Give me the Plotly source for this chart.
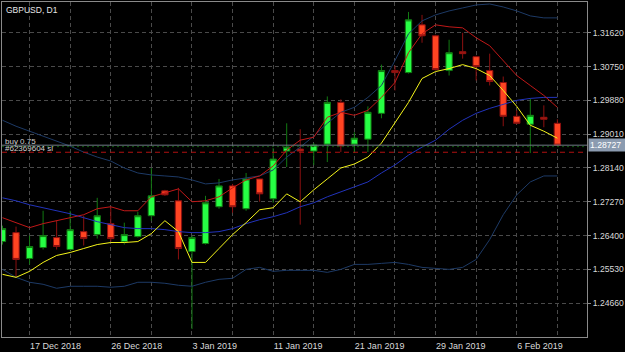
import plotly.graph_objects as go

# ---------------- data ----------------
dates = ["13 Dec 2018", "14 Dec 2018", "17 Dec 2018", "18 Dec 2018", "19 Dec 2018",
         "20 Dec 2018", "21 Dec 2018", "24 Dec 2018", "26 Dec 2018", "27 Dec 2018",
         "28 Dec 2018", "31 Dec 2018", "1 Jan 2019", "2 Jan 2019", "3 Jan 2019",
         "4 Jan 2019", "7 Jan 2019", "8 Jan 2019", "9 Jan 2019", "10 Jan 2019",
         "11 Jan 2019", "14 Jan 2019", "15 Jan 2019", "16 Jan 2019", "17 Jan 2019",
         "18 Jan 2019", "21 Jan 2019", "22 Jan 2019", "23 Jan 2019", "24 Jan 2019",
         "25 Jan 2019", "28 Jan 2019", "29 Jan 2019", "30 Jan 2019", "31 Jan 2019",
         "1 Feb 2019", "4 Feb 2019", "5 Feb 2019", "6 Feb 2019", "7 Feb 2019",
         "8 Feb 2019", "11 Feb 2019"]

open_ = [1.26246, 1.26476, 1.25811, 1.26093, 1.26349, 1.26042, 1.26502, 1.26425, 1.26707, 1.26246,
         1.26374, 1.26911, 1.27551, 1.27295, 1.25990, 1.26195, 1.27142, 1.27679, 1.27091, 1.27858,
         1.27347, 1.28575, 1.28626, 1.28575, 1.28754, 1.29829, 1.28754, 1.28882, 1.29547, 1.30648,
         1.30596, 1.31825, 1.31543, 1.30648, 1.31134, 1.31006, 1.30648, 1.30341, 1.29470, 1.29266,
         1.29445, 1.29291]
high = [1.26656, 1.26630, 1.26400, 1.27039, 1.26783, 1.27039, 1.26911, 1.27372, 1.27142, 1.26732,
        1.27014, 1.28140, 1.27577, 1.27628, 1.26400, 1.27423, 1.27858, 1.27730, 1.28012, 1.27858,
        1.28652, 1.29291, 1.29138, 1.28780, 1.29982, 1.29906, 1.29061, 1.29726, 1.30801, 1.30776,
        1.32157, 1.32081, 1.31570, 1.31441, 1.31620, 1.31031, 1.31083, 1.30494, 1.29624, 1.29931,
        1.29752, 1.29394]
low = [1.26169, 1.25325, 1.25658, 1.26042, 1.26042, 1.26016, 1.26144, 1.26323, 1.26246, 1.26169,
       1.26349, 1.26783, 1.27423, 1.25786, 1.23994, 1.26169, 1.27091, 1.26988, 1.27039, 1.27270,
       1.27244, 1.28165, 1.26681, 1.28217, 1.28293, 1.28549, 1.28524, 1.28549, 1.29419, 1.30136,
       1.30571, 1.31364, 1.30648, 1.30520, 1.30955, 1.30392, 1.30264, 1.29215, 1.29266, 1.28524,
       1.29189, 1.28727]
close = [1.26579, 1.25786, 1.26118, 1.26400, 1.26118, 1.26553, 1.26323, 1.26911, 1.26323, 1.26425,
         1.26911, 1.27423, 1.27449, 1.26067, 1.26349, 1.27244, 1.27679, 1.27142, 1.27858, 1.27474,
         1.28370, 1.28677, 1.28575, 1.28728, 1.29829, 1.28703, 1.28907, 1.29573, 1.30648, 1.30596,
         1.31953, 1.31543, 1.30673, 1.31108, 1.31083, 1.30750, 1.30366, 1.29470, 1.29291, 1.29496,
         1.29394, 1.28727]

ma_fast = [1.25402, 1.25325, 1.25479, 1.25709, 1.25888, 1.25965, 1.26067, 1.26169, 1.26221, 1.26221,
           1.26246, 1.26451, 1.26783, 1.26502, 1.25709, 1.25709, 1.26067, 1.26425, 1.26732, 1.27065,
           1.27116, 1.27474, 1.27270, 1.27577, 1.27858, 1.28140, 1.28242, 1.28421, 1.28780, 1.29317,
           1.29829, 1.30443, 1.30622, 1.30699, 1.30801, 1.30699, 1.30520, 1.30136, 1.29726, 1.29240,
           1.29087, 1.28907]
ma_high = [1.26860, 1.26732, 1.26604, 1.26707, 1.26783, 1.26860, 1.26937, 1.27091, 1.27142, 1.27039,
           1.27039, 1.27398, 1.27500, 1.27602, 1.27270, 1.27295, 1.27398, 1.27628, 1.27833, 1.27935,
           1.28191, 1.28600, 1.28856, 1.28933, 1.29445, 1.29573, 1.29496, 1.29624, 1.29957, 1.30341,
           1.31108, 1.31594, 1.31825, 1.31774, 1.31748, 1.31492, 1.31287, 1.30904, 1.30520, 1.30264,
           1.30008, 1.29701]
bb_mid = [1.27372, 1.27295, 1.27193, 1.27116, 1.27039, 1.26962, 1.26860, 1.26758, 1.26681, 1.26604,
          1.26579, 1.26579, 1.26553, 1.26502, 1.26476, 1.26476, 1.26502, 1.26579, 1.26707, 1.26809,
          1.26886, 1.26988, 1.27142, 1.27244, 1.27398, 1.27525, 1.27653, 1.27781, 1.28012, 1.28217,
          1.28472, 1.28677, 1.28856, 1.29138, 1.29368, 1.29547, 1.29675, 1.29778, 1.29880, 1.29931,
          1.29957, 1.29957]
bb_up = [1.29368, 1.29215, 1.29087, 1.28959, 1.28831, 1.28703, 1.28549, 1.28421, 1.28319, 1.28140,
         1.28012, 1.27961, 1.27935, 1.27909, 1.27833, 1.27730, 1.27756, 1.27833, 1.27884, 1.27935,
         1.28089, 1.28421, 1.28677, 1.28959, 1.29291, 1.29573, 1.29701, 1.29957, 1.30264, 1.30904,
         1.31594, 1.31927, 1.32081, 1.32183, 1.32260, 1.32337, 1.32362, 1.32285, 1.32183, 1.32055,
         1.32004, 1.32004]
bb_low = [1.25530, 1.25325, 1.25198, 1.25146, 1.25044, 1.25095, 1.25095, 1.25095, 1.25070, 1.25095,
          1.25198, 1.25198, 1.25172, 1.25121, 1.25095, 1.25198, 1.25274, 1.25300, 1.25530, 1.25581,
          1.25479, 1.25505, 1.25505, 1.25505, 1.25453, 1.25530, 1.25658, 1.25658, 1.25684, 1.25709,
          1.25658, 1.25581, 1.25556, 1.25530, 1.25581, 1.25786, 1.26297, 1.26937, 1.27449, 1.27781,
          1.27935, 1.27935]

grid_dates = ["17 Dec 2018", "20 Dec 2018", "26 Dec 2018", "31 Dec 2018", "3 Jan 2019",
              "8 Jan 2019", "11 Jan 2019", "16 Jan 2019", "21 Jan 2019", "24 Jan 2019",
              "29 Jan 2019", "1 Feb 2019", "6 Feb 2019", "11 Feb 2019"]
label_dates = ["17 Dec 2018", "26 Dec 2018", "3 Jan 2019", "11 Jan 2019",
               "21 Jan 2019", "29 Jan 2019", "6 Feb 2019"]
price_ticks = [1.24660, 1.25530, 1.26400, 1.27270, 1.28140, 1.29010, 1.29880, 1.30750, 1.31620]

symbol_title = "GBPUSD, D1"
bid_price = 1.28727
buy_price = 1.28690
sl_price = 1.28545
buy_label = "buy 0.75"
sl_label = "#62369604 sl"

# ---------------- figure ----------------
FONT = "Liberation Sans, Arial, sans-serif"
TXT = "#d9d9d9"
GRID = "#4a4a4a"
FRAME = "#8a8a8a"

fig = go.Figure()

fig.add_trace(go.Candlestick(
    x=dates, open=open_, high=high, low=low, close=close,
    increasing=dict(line=dict(color="#127a12", width=1), fillcolor="#26ff44"),
    decreasing=dict(line=dict(color="#8c1010", width=1), fillcolor="#ff4422"),
    whiskerwidth=0, hoverinfo="skip", showlegend=False,
))

for vals, col in [(bb_up, "#1d3a66"), (bb_low, "#1d3a66"), (bb_mid, "#2233bb"),
                  (ma_high, "#c01818"), (ma_fast, "#f5f51a")]:
    fig.add_trace(go.Scatter(x=dates, y=vals, mode="lines",
                             line=dict(color=col, width=1),
                             hoverinfo="skip", showlegend=False))

# order / price lines
fig.add_shape(type="line", xref="paper", x0=0, x1=1, yref="y", y0=bid_price, y1=bid_price,
              line=dict(color="#6f7a86", width=1))
fig.add_shape(type="line", xref="paper", x0=0, x1=1, yref="y", y0=buy_price, y1=buy_price,
              line=dict(color="#0d5a0d", width=1, dash="2px,3px"))
fig.add_shape(type="line", xref="paper", x0=0, x1=1, yref="y", y0=sl_price, y1=sl_price,
              line=dict(color="#b01010", width=1, dash="5px,4px"))

fig.add_annotation(text=symbol_title, xref="paper", yref="paper", x=0, y=1,
                   xanchor="left", yanchor="top", xshift=2, yshift=-1, showarrow=False,
                   font=dict(family=FONT, size=8.5, color="#e6e6e6"))
fig.add_annotation(text=buy_label, xref="paper", yref="y", x=0, y=buy_price,
                   xanchor="left", yanchor="bottom", xshift=2, yshift=0, showarrow=False,
                   borderpad=0, font=dict(family=FONT, size=8, color="#d0d0d0"))
fig.add_annotation(text=sl_label, xref="paper", yref="y", x=0, y=sl_price,
                   xanchor="left", yanchor="bottom", xshift=2, yshift=-2, showarrow=False,
                   borderpad=0, font=dict(family=FONT, size=8, color="#d0d0d0"))
fig.add_annotation(text=f"{bid_price:.5f}", xref="paper", yref="y", x=1, y=bid_price,
                   xanchor="left", yanchor="middle", xshift=1, showarrow=False,
                   bgcolor="#8b9bb0", width=34, align="left", borderpad=1,
                   font=dict(family=FONT, size=8.6, color="#ffffff"))

fig.update_layout(
    width=625, height=352,
    margin=dict(l=1, r=37, t=1, b=14),
    paper_bgcolor="#000000", plot_bgcolor="#000000",
    showlegend=False, boxgap=0.33,
    xaxis=dict(
        type="category", range=[-0.037, 43.19],
        tickvals=grid_dates,
        ticktext=[d if d in label_dates else "" for d in grid_dates],
        showgrid=True, gridcolor=GRID, gridwidth=1, griddash="4px,3px",
        showline=True, mirror=True, linecolor=FRAME, linewidth=1,
        ticks="", ticklabelposition="outside right",
        tickfont=dict(family=FONT, size=9, color=TXT),
        rangeslider=dict(visible=False), zeroline=False, fixedrange=True,
    ),
    yaxis=dict(
        side="right", range=[1.23789, 1.32413],
        tickvals=price_ticks, tickformat=".5f",
        showgrid=True, gridcolor=GRID, gridwidth=1, griddash="4px,3px",
        showline=True, mirror=True, linecolor=FRAME, linewidth=1,
        ticks="outside", ticklen=3, tickcolor=FRAME,
        tickfont=dict(family=FONT, size=8.6, color=TXT),
        zeroline=False, fixedrange=True,
    ),
)

fig.write_html("out.html", config={"displayModeBar": False})
